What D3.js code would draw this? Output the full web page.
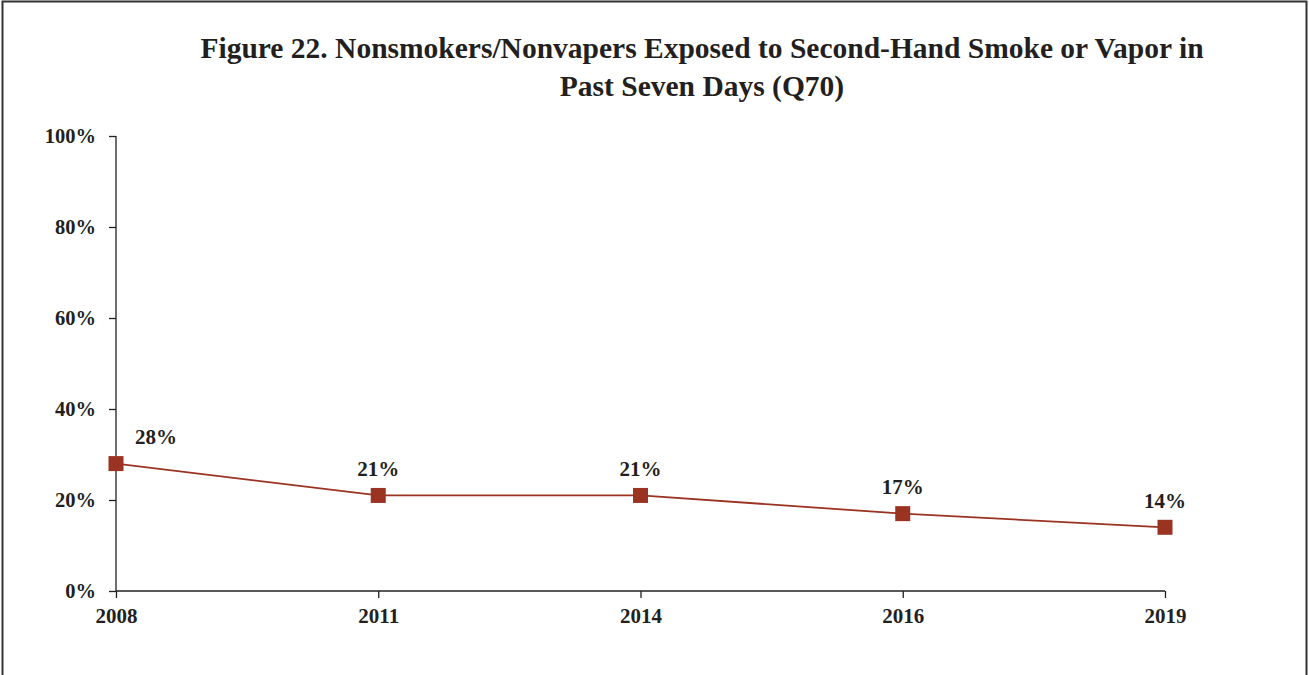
<!DOCTYPE html>
<html>
<head>
<meta charset="utf-8">
<script src="https://cdn.jsdelivr.net/npm/d3@7"></script>
<style>
  html, body { margin: 0; padding: 0; background: #fff; }
  svg { display: block; }
  text { font-family: "Liberation Serif", "Times New Roman", serif; font-weight: bold; fill: #231f20; }
</style>
</head>
<body>
<svg id="chart" width="1309" height="675"></svg>
<script>
// Survey years and share of nonsmokers/nonvapers exposed (%)
const years = ["2008", "2011", "2014", "2016", "2019"];
const exposed = [28, 21, 21, 17, 14];
const yTicks = [0, 20, 40, 60, 80, 100];
const titleLines = [
  "Figure 22. Nonsmokers/Nonvapers Exposed to Second-Hand Smoke or Vapor in",
  "Past Seven Days (Q70)"
];

const svg = d3.select("#chart");
const lineColor = "#9b3322";
const axisColor = "#231f20";
const fontSerif = "Liberation Serif, Times New Roman, serif";

// Outer frame
svg.append("rect")
  .attr("x", 2.5).attr("y", 1.5)
  .attr("width", 1304).attr("height", 700)
  .attr("fill", "none").attr("stroke", "#333").attr("stroke-width", 2);

// Title
svg.append("g").selectAll("text")
  .data(titleLines)
  .join("text")
  .attr("x", 702)
  .attr("y", (d, i) => 58 + i * 38)
  .attr("text-anchor", "middle")
  .attr("font-size", 29.5)
  .text(d => d);

const x = d3.scalePoint().domain(years).range([116, 1165]);
const y = d3.scaleLinear().domain([0, 100]).range([591, 136]);

// Y axis
const yAxis = svg.append("g")
  .attr("transform", "translate(116,0)")
  .call(d3.axisLeft(y).tickValues(yTicks).tickFormat(d => d + "%").tickSize(7).tickPadding(13));
yAxis.select(".domain").attr("stroke", axisColor).attr("stroke-width", 1.3).attr("d", "M0,136V591");
yAxis.selectAll(".tick line").attr("stroke", axisColor).attr("stroke-width", 1.3);
yAxis.selectAll(".tick text")
  .attr("font-size", 20.5).attr("font-family", fontSerif).attr("font-weight", "bold")
  .attr("fill", axisColor).attr("dy", "0.33em");

// X axis
const xAxis = svg.append("g")
  .attr("transform", "translate(0,591)")
  .call(d3.axisBottom(x).tickSize(7).tickPadding(10));
xAxis.select(".domain").attr("stroke", axisColor).attr("stroke-width", 1.3).attr("d", "M116,0H1165");
xAxis.selectAll(".tick line").attr("stroke", axisColor).attr("stroke-width", 1.3);
xAxis.selectAll(".tick text")
  .attr("font-size", 21).attr("font-family", fontSerif).attr("font-weight", "bold")
  .attr("fill", axisColor);

// Series line
const pts = years.map((yr, i) => ({ yr, v: exposed[i] }));
svg.append("path")
  .datum(pts)
  .attr("fill", "none")
  .attr("stroke", lineColor)
  .attr("stroke-width", 1.8)
  .attr("d", d3.line().x(d => x(d.yr)).y(d => y(d.v)));

// Square markers
const ms = 15;
svg.append("g").selectAll("rect")
  .data(pts)
  .join("rect")
  .attr("x", d => x(d.yr) - ms / 2)
  .attr("y", d => y(d.v) - ms / 2)
  .attr("width", ms).attr("height", ms)
  .attr("fill", lineColor);

// Value labels
svg.append("g").selectAll("text")
  .data(pts)
  .join("text")
  .attr("x", (d, i) => x(d.yr) + (i === 0 ? 40 : 0))
  .attr("y", d => y(d.v) - 19.5)
  .attr("text-anchor", "middle")
  .attr("font-size", 21)
  .text(d => d.v + "%");
</script>
</body>
</html>
